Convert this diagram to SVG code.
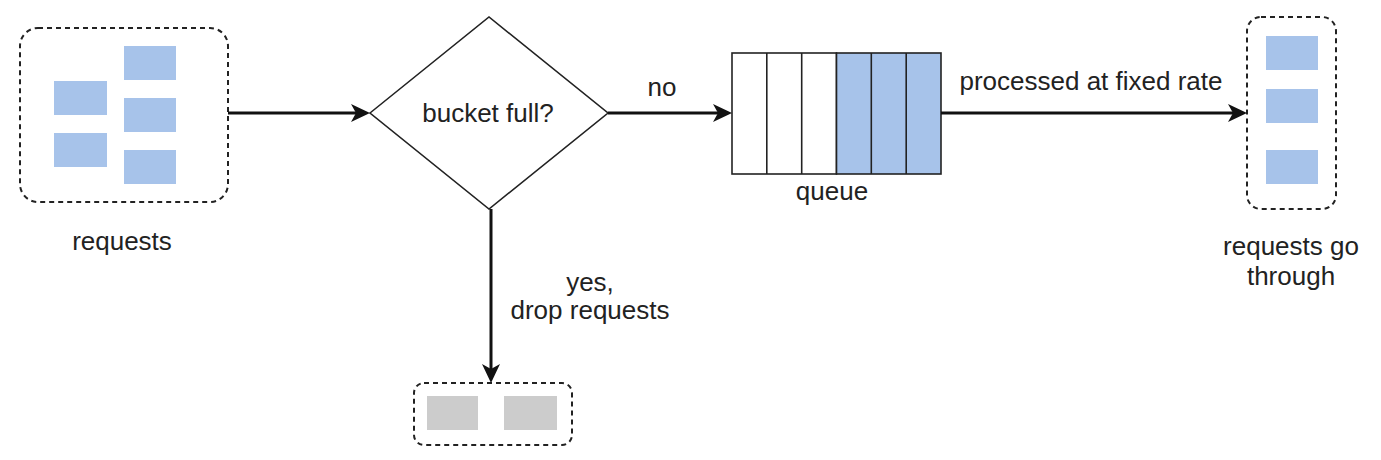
<svg xmlns="http://www.w3.org/2000/svg" width="1381" height="460" viewBox="0 0 1381 460">
<style>
.lbl{font-family:"Liberation Sans",Arial,sans-serif;font-size:26px;fill:#222;text-anchor:middle}
.dash{fill:#fff;stroke:#222;stroke-width:2;stroke-dasharray:5 4}
.blue{fill:#a7c3ea}
.gray{fill:#cccccc}
.conn{stroke:#111;stroke-width:3;fill:none}
.shape{stroke:#222;stroke-width:1.6}
</style>
<defs>
<marker id="arr" markerUnits="userSpaceOnUse" markerWidth="22" markerHeight="20" refX="13" refY="9" orient="auto">
<path d="M0,0 L19,9 L0,18 L5,9 Z" fill="#111"/>
</marker>
</defs>
<rect width="1381" height="460" fill="#fff"/>
<g id="requests">
<rect class="dash" x="20" y="28" width="208" height="174" rx="18"/>
<rect class="blue" x="54" y="81" width="53" height="34"/>
<rect class="blue" x="54" y="133" width="53" height="34"/>
<rect class="blue" x="124" y="46" width="52" height="34"/>
<rect class="blue" x="124" y="98" width="52" height="34"/>
<rect class="blue" x="124" y="150" width="52" height="34"/>
<text class="lbl" x="122" y="250">requests</text>
</g>
<g id="decision">
<polygon class="shape" fill="#fff" points="370,113 489,17 608,113 489,209"/>
<text class="lbl" x="488" y="122">bucket full?</text>
</g>
<g id="queue">
<rect class="shape" fill="#fff" x="732" y="53" width="104.5" height="121"/>
<rect class="shape blue" x="836.5" y="53" width="104.5" height="121"/>
<line class="shape" x1="766.8" y1="53" x2="766.8" y2="174"/>
<line class="shape" x1="801.7" y1="53" x2="801.7" y2="174"/>
<line class="shape" x1="871.3" y1="53" x2="871.3" y2="174"/>
<line class="shape" x1="906.2" y1="53" x2="906.2" y2="174"/>
<text class="lbl" x="832" y="200">queue</text>
</g>
<g id="through">
<rect class="dash" x="1247" y="17" width="89" height="192" rx="14"/>
<rect class="blue" x="1266" y="36" width="52" height="34"/>
<rect class="blue" x="1266" y="89" width="52" height="34"/>
<rect class="blue" x="1266" y="150" width="52" height="34"/>
<text class="lbl" x="1291" y="255">requests go</text>
<text class="lbl" x="1291" y="285">through</text>
</g>
<g id="dropped">
<rect class="dash" x="414" y="383" width="158" height="62" rx="10"/>
<rect class="gray" x="427" y="396" width="51" height="34"/>
<rect class="gray" x="504" y="396" width="53" height="34"/>
</g>
<g id="connectors">
<line class="conn" x1="228" y1="113" x2="364" y2="113" marker-end="url(#arr)"/>
<line class="conn" x1="608" y1="113" x2="726" y2="113" marker-end="url(#arr)"/>
<line class="conn" x1="941" y1="113" x2="1241" y2="113" marker-end="url(#arr)"/>
<line class="conn" x1="491" y1="209" x2="491" y2="377" marker-end="url(#arr)"/>
<text class="lbl" x="662" y="96">no</text>
<text class="lbl" x="1091" y="90">processed at fixed rate</text>
<text class="lbl" x="590" y="291">yes,</text>
<text class="lbl" x="590" y="319">drop requests</text>
</g>
</svg>
